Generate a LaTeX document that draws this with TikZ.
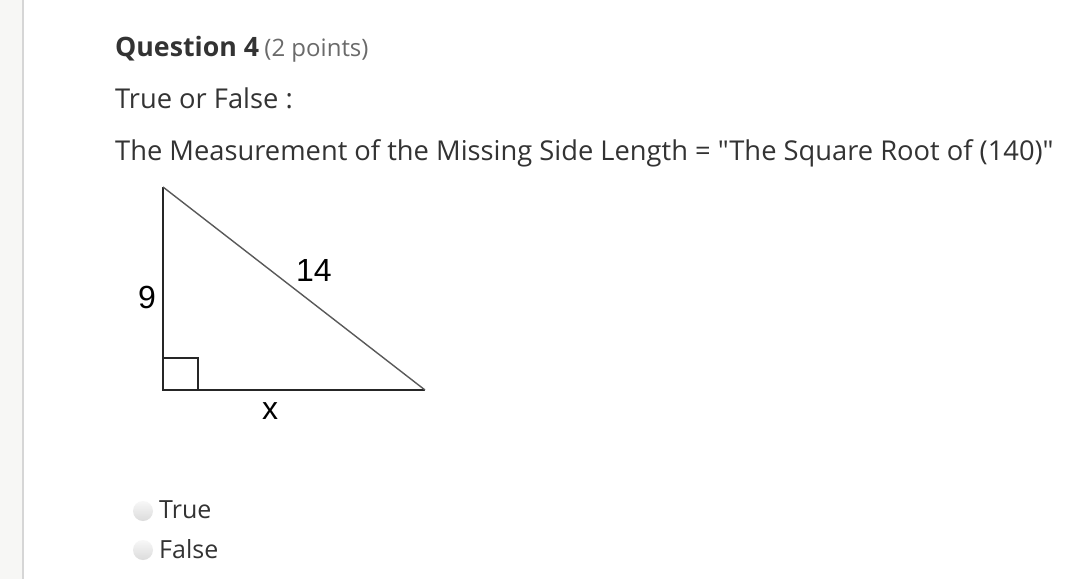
\documentclass[tikz,border=0pt]{standalone}
\usepackage{fontspec}
\setmainfont{Open Sans}[Ligatures=TeXOff]
\newfontfamily\labelfont{Liberation Sans}
\usepackage{tikz}

\definecolor{bodytext}{HTML}{333333}
\definecolor{pointtext}{HTML}{6A6A6A}
\definecolor{sidepanel}{HTML}{F7F7F5}
\definecolor{panelline}{HTML}{D6D6D6}

\tikzset{
  body/.style={anchor=base west, inner sep=0pt, text=bodytext, font=\fontsize{27.3}{32}\selectfont},
  sidelabel/.style={inner sep=0pt, text=black, font=\labelfont\fontsize{32}{36}\selectfont},
  radio/.style={top color=gray!6, bottom color=gray!28, draw=none}
}

\begin{document}
\begin{tikzpicture}[x=1pt, y=-1pt]
    \useasboundingbox[fill=white] (0, 0) rectangle (1078, 579);
    \fill[sidepanel] (0, 0) rectangle (22, 579);
    \draw[panelline, line width=2pt] (23, 0) -- (23, 579);

    \node[body, font=\bfseries\fontsize{26.7}{31}\selectfont] (title) at (115, 56) {Question 4};
    \node[body, text=pointtext, font=\fontsize{24}{29}\selectfont] (points) at ([xshift=5pt]title.base east) {(2 points)};
    \node[body] (tf) at (115, 108) {True or False :};
    \node[body] (stem) at (115, 160) {The Measurement of the Missing Side Length = "The Square Root of (140)"};

    \coordinate (top) at (163, 187);
    \coordinate (corner) at (163, 390);
    \coordinate (tip) at (425, 390);
    \draw[line width=1.6pt, black!85] (top) -- (corner) -- (tip);
    \draw[line width=1.4pt, black!65] (tip) -- (top);
    \draw[line width=1.6pt, black!85] (corner) ++(0, -32) -| ++(35, 32);

    \node[sidelabel] (a) at (147, 297) {9};
    \node[sidelabel] (c) at (314, 270) {14};
    \node[sidelabel] (b) at (270, 411) {x};

    \shade[radio] (143, 511) circle (10);
    \shade[radio] (143, 550) circle (10);
    \node[body, font=\fontsize{25}{30}\selectfont] (yes) at (159, 518) {True};
    \node[body, font=\fontsize{25}{30}\selectfont] (no) at (159, 558) {False};
\end{tikzpicture}
\end{document}
